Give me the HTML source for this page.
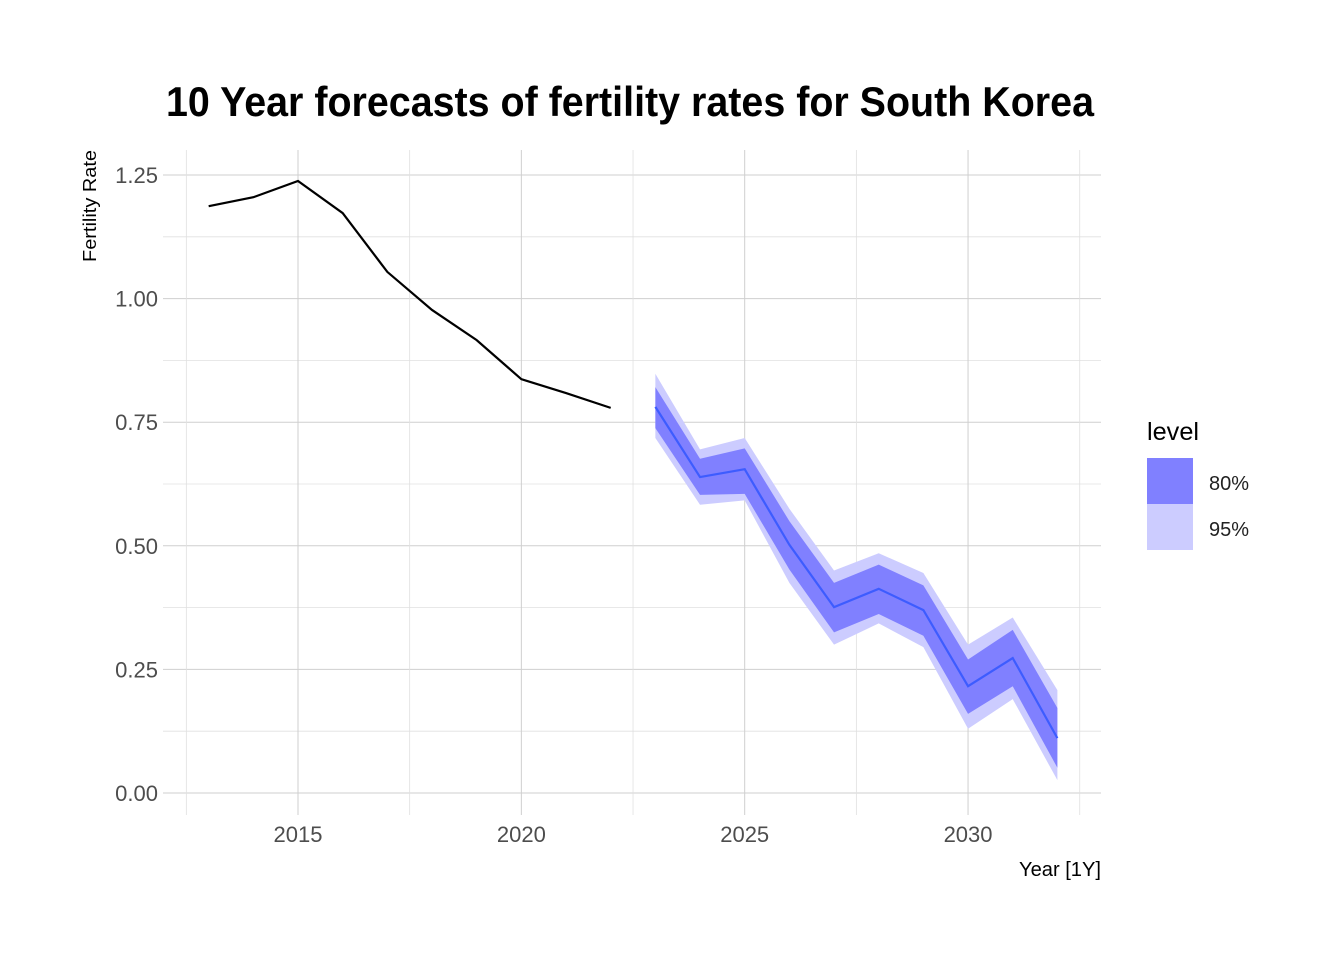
<!DOCTYPE html>
<html><head><meta charset="utf-8"><style>body{margin:0;background:#fff}svg{display:block;font-family:"Liberation Sans",sans-serif}</style></head>
<body>
<svg id="c" width="1344" height="960"></svg>
<script>
const histYears=[2013,2014,2015,2016,2017,2018,2019,2020,2021,2022];
const histValues=[1.187,1.205,1.238,1.173,1.054,0.977,0.916,0.837,0.809,0.779];
const fcYears=[2023,2024,2025,2026,2027,2028,2029,2030,2031,2032];
const fcMean=[0.781,0.639,0.655,0.502,0.376,0.413,0.370,0.216,0.273,0.111];
const lo80=[0.738,0.603,0.605,0.452,0.325,0.362,0.318,0.160,0.216,0.051];
const hi80=[0.821,0.676,0.697,0.550,0.425,0.462,0.420,0.270,0.330,0.172];
const lo95=[0.718,0.583,0.592,0.425,0.300,0.343,0.295,0.130,0.190,0.026];
const hi95=[0.848,0.695,0.718,0.575,0.450,0.485,0.445,0.300,0.355,0.208];
const yTicks=[0,0.25,0.5,0.75,1.0,1.25];
const yLabels=["0.00","0.25","0.50","0.75","1.00","1.25"];
const xTicks=[2015,2020,2025,2030];
const xs=v=>298+(v-2015)*44.67;
const ys=v=>793-v*494.4;
const svg=document.getElementById('c');
const NS='http://www.w3.org/2000/svg';
function mk(t,a,p){const e=document.createElementNS(NS,t);for(const k in a)e.setAttribute(k,a[k]);(p||svg).appendChild(e);return e;}
// grid
for(let i=0;i<yTicks.length;i++){
 const l=mk('line',{x1:163,x2:1101,y1:ys(yTicks[i]),y2:ys(yTicks[i]),stroke:'#cfcfcf','stroke-width':1});
 
 if(i<yTicks.length-1){const m=mk('line',{x1:163,x2:1101,y1:ys(yTicks[i]+0.125),y2:ys(yTicks[i]+0.125),stroke:'#e0e0e0','stroke-width':0.8});
 }
 const t=mk('text',{x:158,y:ys(yTicks[i])+8,'text-anchor':'end','font-size':22,fill:'#4d4d4d'});t.textContent=yLabels[i];
 
}
for(const v of [2012.5,2017.5,2022.5,2027.5,2032.5]){const m=mk('line',{x1:xs(v),x2:xs(v),y1:150,y2:815,stroke:'#e0e0e0','stroke-width':0.8});
 }
for(const v of xTicks){const l=mk('line',{x1:xs(v),x2:xs(v),y1:150,y2:815,stroke:'#cfcfcf','stroke-width':1});
 
 const t=mk('text',{x:xs(v),y:842,'text-anchor':'middle','font-size':22,fill:'#4d4d4d'});t.textContent=v;
 }
function band(lo,hi,fill,name){let d='';fcYears.forEach((y,i)=>d+=(i?'L':'M')+xs(y)+','+ys(hi[i]));
 for(let i=fcYears.length-1;i>=0;i--)d+='L'+xs(fcYears[i])+','+ys(lo[i]);
 const p=mk('path',{d:d+'Z',fill:fill});}
band(lo95,hi95,'#ccccff','band-95');
band(lo80,hi80,'#8080ff','band-80');
function line(xv,yv,col,name){const p=mk('polyline',{points:xv.map((y,i)=>xs(y)+','+ys(yv[i])).join(' '),fill:'none',stroke:col,'stroke-width':2.2});
 }
line(histYears,histValues,'#000','historical-line');
line(fcYears,fcMean,'#3d5cff','forecast-mean-line');
</script>
<svg width="0" height="0"></svg>
<div style="position:absolute;left:0;top:0;width:1344px;height:960px;pointer-events:none">
<svg width="1344" height="960" style="font-family:'Liberation Sans',sans-serif">
<text x="166" y="116" font-size="42" font-weight="bold" textLength="928" lengthAdjust="spacingAndGlyphs">10 Year forecasts of fertility rates for South Korea</text>
<text transform="translate(96,262) rotate(-90)" font-size="18" textLength="112" lengthAdjust="spacingAndGlyphs">Fertility Rate</text>
<text x="1101" y="876" text-anchor="end" font-size="20" textLength="82" lengthAdjust="spacingAndGlyphs">Year [1Y]</text>
<g>
<text x="1147" y="440" font-size="25" textLength="52" lengthAdjust="spacingAndGlyphs">level</text>
<rect x="1147" y="458" width="46" height="46" fill="#8080ff"/>
<rect x="1147" y="504" width="46" height="46" fill="#ccccff"/>
<text x="1209" y="490" font-size="20" fill="#222">80%</text>
<text x="1209" y="536" font-size="20" fill="#222">95%</text>
</g>
</svg></div>
</body></html>
